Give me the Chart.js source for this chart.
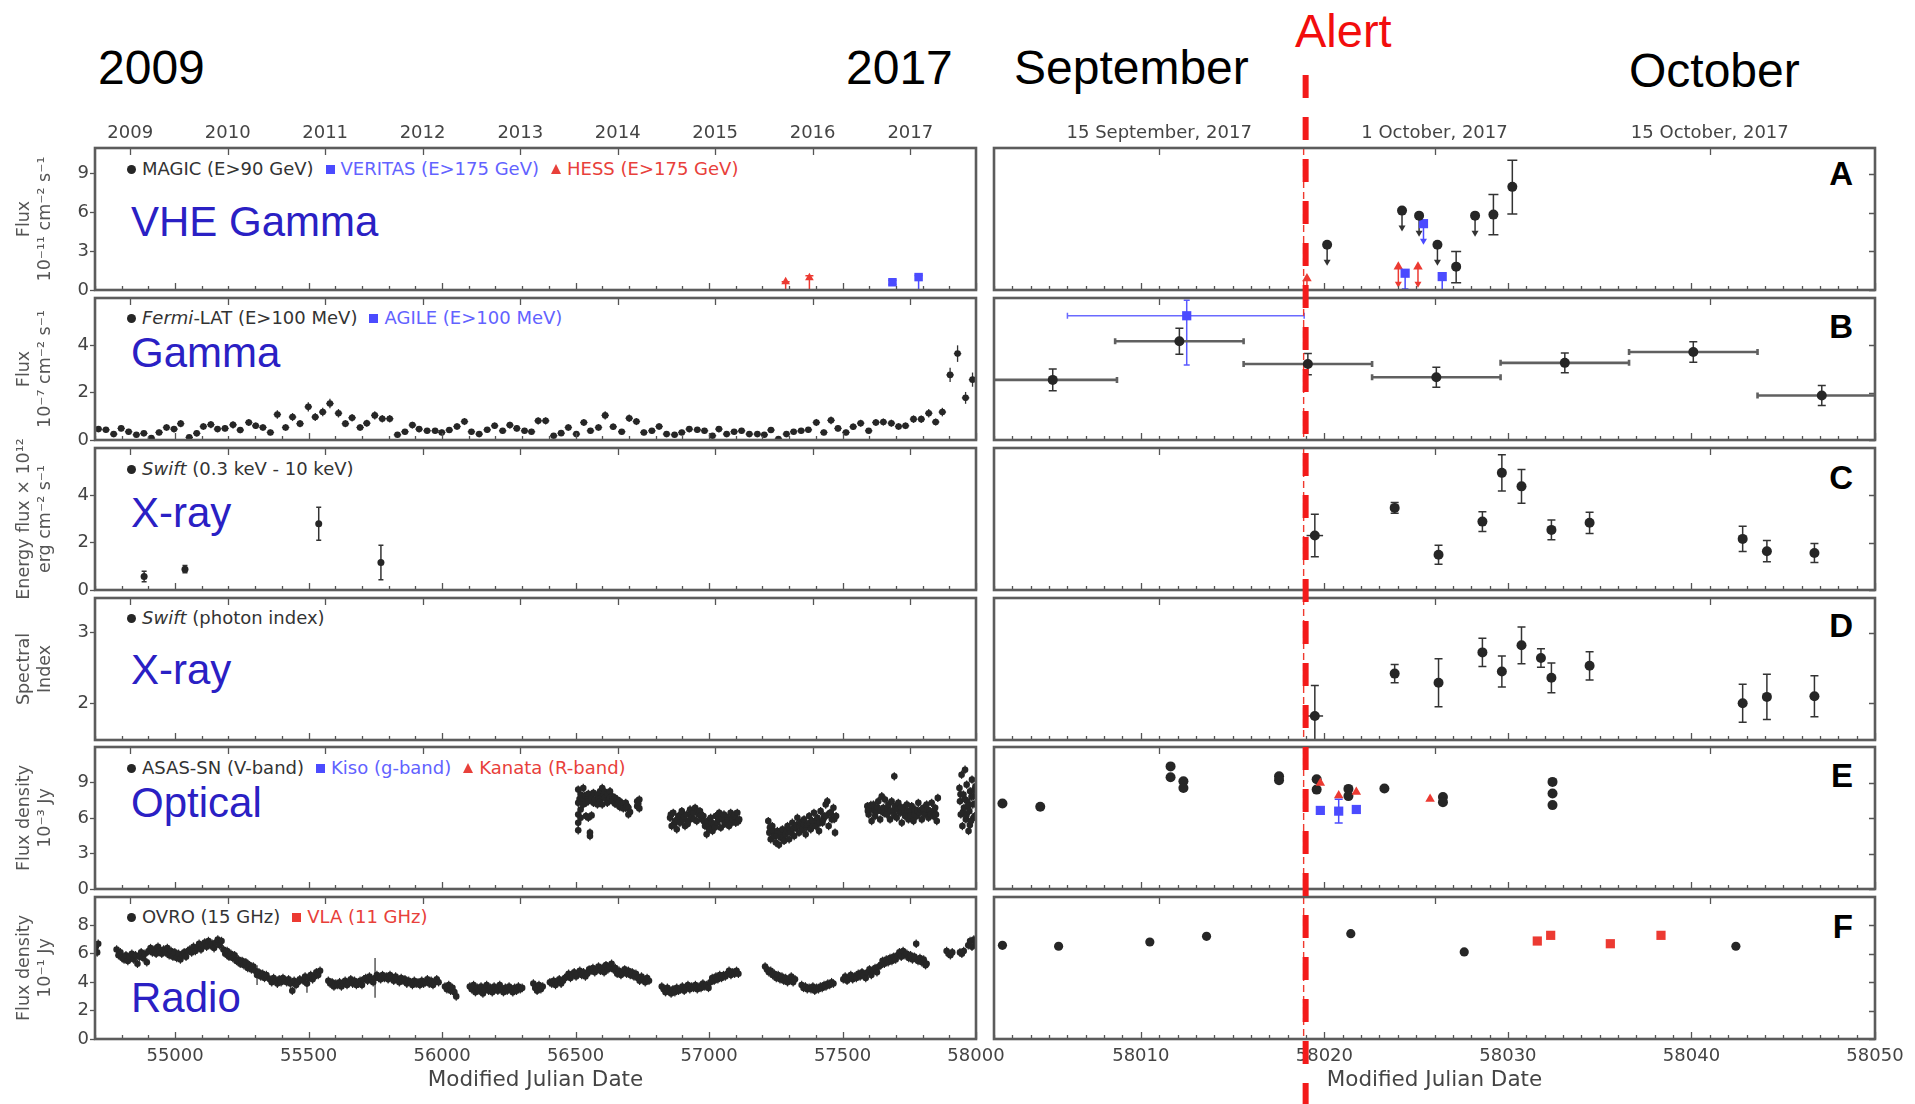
<!DOCTYPE html>
<html lang="en">
<head>
<meta charset="utf-8">
<title>TXS 0506+056 multi-wavelength light curves</title>
<script src="https://cdn.jsdelivr.net/npm/chart.js@4.4.1/dist/chart.umd.min.js"></script>
<style>
html,body{margin:0;padding:0;background:#fff;}
#stage{position:relative;width:1915px;height:1104px;overflow:hidden;font-family:"DejaVu Sans",sans-serif;background:#fff;}
canvas.panel{position:absolute;}
.big{position:absolute;font-family:"Liberation Sans",Arial,sans-serif;font-size:48px;line-height:48px;color:#000;white-space:nowrap;}
.band{position:absolute;left:131px;font-family:"Liberation Sans",Arial,sans-serif;font-size:42px;line-height:42px;color:#2a20c4;white-space:nowrap;}
.letter{position:absolute;right:62px;font-family:"Liberation Sans",Arial,sans-serif;font-weight:bold;font-size:33px;line-height:33px;color:#000;}
.legend{position:absolute;left:127px;height:20px;line-height:20px;font-size:18px;color:#333;white-space:nowrap;display:flex;align-items:center;}
.mk{display:inline-block;margin-right:6px;}
.mk.c{width:9px;height:9px;border-radius:50%;}
.mk.s{width:9px;height:9px;}
.mk.t{width:0;height:0;border-left:5px solid transparent;border-right:5px solid transparent;border-bottom:10px solid #e8403a;}
.gap{display:inline-block;width:12px;}
#alertLine{position:absolute;left:0;top:0;pointer-events:none;}
</style>
</head>
<body>
<div id="stage">
  <div class="big" style="left:98px;top:44px">2009</div>
  <div class="big" style="left:846px;top:44px">2017</div>
  <div class="big" style="left:1014px;top:44px">September</div>
  <div class="big" style="left:1629px;top:47px">October</div>
  <div class="big" style="left:1295px;top:7px;font-size:47px;line-height:47px;color:#f20d0d">Alert</div>

  <div class="band" style="top:201px">VHE Gamma</div>
  <div class="band" style="top:332px">Gamma</div>
  <div class="band" style="top:492px">X-ray</div>
  <div class="band" style="top:649px">X-ray</div>
  <div class="band" style="top:782px">Optical</div>
  <div class="band" style="top:977px">Radio</div>

  <div class="letter" style="top:157px">A</div>
  <div class="letter" style="top:310px">B</div>
  <div class="letter" style="top:461px">C</div>
  <div class="letter" style="top:609px">D</div>
  <div class="letter" style="top:759px">E</div>
  <div class="letter" style="top:910px">F</div>

  <div class="legend" style="top:159px">
    <span class="mk c" style="background:#262626"></span><span>MAGIC (E&gt;90 GeV)</span><span class="gap"></span>
    <span class="mk s" style="background:#4b4bff"></span><span style="color:#6262ff">VERITAS (E&gt;175 GeV)</span><span class="gap"></span>
    <span class="mk t"></span><span style="color:#e8403a">HESS (E&gt;175 GeV)</span>
  </div>
  <div class="legend" style="top:308px">
    <span class="mk c" style="background:#262626"></span><span><i>Fermi</i>-LAT (E&gt;100 MeV)</span><span class="gap"></span>
    <span class="mk s" style="background:#4b4bff"></span><span style="color:#6262ff">AGILE (E&gt;100 MeV)</span>
  </div>
  <div class="legend" style="top:459px">
    <span class="mk c" style="background:#262626"></span><span><i>Swift</i> (0.3 keV - 10 keV)</span>
  </div>
  <div class="legend" style="top:608px">
    <span class="mk c" style="background:#262626"></span><span><i>Swift</i> (photon index)</span>
  </div>
  <div class="legend" style="top:758px">
    <span class="mk c" style="background:#262626"></span><span>ASAS-SN (V-band)</span><span class="gap"></span>
    <span class="mk s" style="background:#4b4bff"></span><span style="color:#6262ff">Kiso (g-band)</span><span class="gap"></span>
    <span class="mk t"></span><span style="color:#e8403a">Kanata (R-band)</span>
  </div>
  <div class="legend" style="top:907px">
    <span class="mk c" style="background:#262626"></span><span>OVRO (15 GHz)</span><span class="gap"></span>
    <span class="mk s" style="background:#ec3a32"></span><span style="color:#e8403a">VLA (11 GHz)</span>
  </div>

  <canvas id="alertLine" width="1915" height="1104"></canvas>
</div>

<script>
// ---------------- axes ----------------
const LEFT_RANGE = [54700, 58000];
const RIGHT_RANGE = [58002, 58050];
const LEFT_MJD_TICKS = [55000, 55500, 56000, 56500, 57000, 57500, 58000];
const RIGHT_MJD_TICKS = [58010, 58020, 58030, 58040, 58050];
const YEAR_TICK_MJD = [54832, 55197, 55562, 55927, 56293, 56658, 57023, 57388, 57754];
const YEAR_LABELS = ['2009', '2010', '2011', '2012', '2013', '2014', '2015', '2016', '2017'];
const DATE_TICK_MJD = [58011, 58026, 58041];
const DATE_LABELS = ['15 September, 2017', '1 October, 2017', '15 October, 2017'];
const ALERT_MJD = 58018.87;

const Y_TICKS_A = [0, 3, 6, 9];
const Y_TICKS_B = [0, 2, 4];
const Y_TICKS_C = [0, 2, 4];
const Y_TICKS_D = [2, 3];
const Y_TICKS_E = [0, 3, 6, 9];
const Y_TICKS_F = [0, 2, 4, 6, 8];

// ---------------- A: VHE gamma (1e-11 cm^-2 s^-1) ----------------
// [MJD, flux, lower, upper]
const HESS_LONG = [[57287, 0.64, 0, 0.64], [57376, 0.95, 0, 1.1]];
const VERITAS_LONG = [[57687, 0.6, 0.42, 0.75], [57785, 1.0, 0, 1.12]];
const MAGIC_FLARE = [[58027.18, 1.81, 0.57, 2.98], [58029.21, 5.84, 4.28, 7.4], [58030.24, 7.99, 5.89, 10.06]];
// upper limits [MJD, flux]
const MAGIC_UL = [[58020.15, 3.5], [58024.23, 6.15], [58025.16, 5.76], [58026.16, 3.5], [58028.21, 5.76]];
const VERITAS_UL = [[58024.4, 1.3], [58025.4, 5.14], [58026.42, 1.04]];
const HESS_UL = [[58019.05, 0.9], [58024.03, 1.8], [58025.1, 1.8]];

// ---------------- B: HE gamma (1e-7 cm^-2 s^-1) ----------------
// monthly Fermi-LAT bins [MJD, flux, error]
const FERMI_MONTHLY = [
  [54713,0.46,0.12],[54741,0.43,0.12],[54770,0.25,0.12],[54798,0.49,0.12],[54826,0.35,0.12],[54855,0.22,0.1],
  [54883,0.28,0.1],[54911,0.08,0.1],[54940,0.32,0.12],[54968,0.53,0.14],[54996,0.46,0.13],[55021,0.69,0.15],
  [55053,0.11,0.1],[55081,0.28,0.12],[55106,0.57,0.14],[55134,0.65,0.15],[55159,0.46,0.13],[55187,0.49,0.13],
  [55217,0.64,0.15],[55244,0.42,0.13],[55276,0.74,0.15],[55302,0.6,0.14],[55329,0.53,0.14],[55357,0.32,0.12],
  [55383,1.08,0.18],[55414,0.53,0.14],[55440,0.97,0.17],[55468,0.69,0.15],[55499,1.4,0.2],[55525,0.97,0.17],
  [55553,1.18,0.18],[55580,1.54,0.2],[55612,1.13,0.18],[55638,0.69,0.15],[55663,0.94,0.16],[55693,0.53,0.14],
  [55718,0.71,0.15],[55748,1.04,0.17],[55776,0.9,0.16],[55804,0.9,0.16],[55833,0.22,0.1],[55861,0.35,0.12],
  [55889,0.63,0.14],[55914,0.46,0.13],[55944,0.39,0.12],[55974,0.39,0.12],[55999,0.32,0.12],[56027,0.42,0.12],
  [56056,0.57,0.14],[56084,0.78,0.15],[56110,0.35,0.12],[56139,0.25,0.11],[56169,0.43,0.12],[56197,0.6,0.14],
  [56227,0.39,0.12],[56254,0.63,0.14],[56280,0.49,0.13],[56309,0.39,0.12],[56335,0.35,0.12],[56360,0.81,0.15],
  [56388,0.81,0.15],[56418,0.18,0.1],[56446,0.29,0.11],[56473,0.53,0.14],[56503,0.25,0.11],[56531,0.74,0.15],
  [56556,0.39,0.12],[56586,0.53,0.14],[56611,1.04,0.17],[56641,0.56,0.14],[56673,0.35,0.12],[56701,0.92,0.16],
  [56728,0.78,0.15],[56756,0.32,0.12],[56786,0.39,0.12],[56813,0.57,0.14],[56841,0.25,0.11],[56871,0.22,0.1],
  [56898,0.32,0.11],[56926,0.46,0.13],[56956,0.43,0.12],[56983,0.39,0.12],[57013,0.18,0.1],[57037,0.46,0.13],
  [57066,0.25,0.11],[57094,0.35,0.12],[57122,0.39,0.12],[57151,0.25,0.11],[57181,0.25,0.11],[57207,0.22,0.1],
  [57232,0.42,0.12],[57260,0.04,0.1],[57290,0.25,0.11],[57317,0.35,0.12],[57345,0.39,0.12],[57372,0.43,0.12],
  [57402,0.74,0.15],[57430,0.32,0.12],[57457,0.83,0.16],[57483,0.49,0.13],[57513,0.32,0.12],[57540,0.56,0.14],
  [57568,0.71,0.15],[57598,0.39,0.12],[57625,0.74,0.15],[57653,0.76,0.15],[57683,0.71,0.15],[57710,0.57,0.14],
  [57736,0.6,0.14],[57766,0.88,0.16],[57795,0.88,0.16],[57823,1.13,0.18],[57849,0.76,0.15],[57874,1.18,0.18],
  [57903,2.75,0.3],[57931,3.65,0.35],[57961,1.78,0.25],[57987,2.55,0.3]
];
const FERMI_MONTH_HALF = 14;
// weekly Fermi-LAT bins [MJD, flux, error]
const FERMI_WEEKLY = [[58005.2,2.54,0.46],[58012.1,4.17,0.55],[58019.1,3.21,0.45],[58026.1,2.65,0.42],
  [58033.1,3.26,0.42],[58040.1,3.72,0.43],[58047.1,1.88,0.42]];
const FERMI_WEEK_HALF = 3.5;
// AGILE [MJD, flux, lower, upper, start, end]
const AGILE = [[58012.5, 5.25, 3.17, 5.9, 58006.0, 58018.9]];

// ---------------- C: X-ray energy flux (1e-12 erg cm^-2 s^-1) ----------------
// [MJD, flux, error, time error]
const SWIFT_FLUX_LONG = [[54884,0.57,0.22,0],[55037,0.88,0.15,0],[55538,2.8,0.7,0],[55771,1.16,0.73,0]];
const SWIFT_FLUX_RECENT = [[58019.48,2.3,0.9,0.45],[58023.83,3.47,0.23,0],[58026.22,1.49,0.4,0],[58028.61,2.89,0.42,0],
  [58029.67,4.95,0.77,0],[58030.74,4.38,0.71,0],[58032.37,2.54,0.42,0],[58034.45,2.84,0.45,0],
  [58042.79,2.16,0.53,0],[58044.11,1.64,0.45,0],[58046.7,1.56,0.4,0]];

// ---------------- D: X-ray photon index ----------------
const SWIFT_INDEX = [[58019.48,1.82,0.43,0.45],[58023.83,2.42,0.13,0],[58026.22,2.29,0.34,0],[58028.61,2.72,0.2,0],
  [58029.67,2.45,0.22,0],[58030.74,2.82,0.26,0],[58031.8,2.64,0.13,0],[58032.37,2.36,0.21,0],
  [58034.45,2.53,0.2,0],[58042.79,2.0,0.27,0],[58044.11,2.09,0.32,0],[58046.7,2.1,0.29,0]];

// ---------------- E: optical flux density (1e-3 Jy) ----------------
const ASASSN_LONG = [
  // 2013 season
  [56510,8.4],[56510,7.28],[56510,6.3],[56510,5.6],[56510,4.96],[56515,7.6],[56519,7.98],[56519,7.42],[56519,6.72],[56519,6.02],
  [56529,8.54],[56529,7.7],[56529,7.14],[56534,7.9],[56539,7.84],[56539,7.28],[56539,6.16],[56544,7.6],[56548,8.04],[56548,7.42],
  [56548,6.02],[56554,4.48],[56554,4.76],[56560,7.7],[56560,6.22],[56567,8.12],[56567,7.28],[56573,7.56],[56582,7.98],[56582,7.14],
  [56587,7.6],[56592,7.42],[56592,8.26],[56600,8.54],[56600,7.84],[56600,7.14],[56605,8.0],[56610,7.7],[56610,8.21],[56619,7.98],
  [56619,7.28],[56624,7.5],[56629,8.26],[56629,7.7],[56638,7.84],[56638,7.42],[56643,7.6],[56648,7.7],[56648,7.2],[56656,7.56],
  [56656,7.14],[56661,7.3],[56666,7.42],[56666,6.92],[56672,7.2],[56679,7.14],[56679,6.81],[56688,7.28],[56688,6.86],[56693,7.0],
  [56698,6.86],[56698,6.3],[56704,6.5],[56731,7.42],[56731,7.0],[56735,7.2],[56739,7.56],[56739,6.81],
  // 2014 season
  [56854,6.02],[56857,6.3],[56860,5.32],[56866,6.44],[56869,5.5],[56873,5.74],[56879,5.04],[56882,5.9],[56885,6.16],[56891,5.6],
  [56894,6.2],[56898,6.58],[56904,5.88],[56907,6.1],[56910,5.32],[56916,6.3],[56920,5.5],[56923,5.74],[56929,6.72],[56932,6.3],
  [56935,6.02],[56941,6.44],[56944,5.9],[56948,6.86],[56954,5.74],[56957,6.6],[56960,6.3],[56966,6.58],[56970,6.2],[56973,5.88],
  [56979,6.16],[56982,5.7],[56985,5.32],[56991,4.62],[56995,5.74],[56998,5.3],[57001,5.04],[57006,6.02],[57010,5.6],[57013,4.9],
  [57019,5.46],[57022,5.2],[57025,6.16],[57031,5.6],[57035,5.9],[57038,6.44],[57044,5.18],[57047,6.1],[57050,5.88],[57056,6.3],
  [57059,5.5],[57063,5.6],[57069,6.02],[57072,5.8],[57075,5.32],[57081,6.44],[57085,5.6],[57088,5.88],[57094,6.16],[57097,6.3],
  [57100,5.6],[57106,6.44],[57109,5.7],[57113,5.88],
  // 2015 season
  [57222,5.74],[57226,4.76],[57228,5.2],[57231,4.2],[57237,5.32],[57240,4.9],[57244,4.48],[57250,3.92],[57253,4.5],[57256,4.9],
  [57262,3.73],[57266,4.8],[57269,4.34],[57275,5.04],[57278,4.4],[57281,4.06],[57287,4.62],[57291,4.9],[57294,5.32],[57300,4.2],
  [57303,5.0],[57306,4.76],[57312,5.6],[57316,5.1],[57319,4.48],[57325,5.18],[57328,5.4],[57331,6.02],[57337,4.76],[57340,5.3],
  [57343,5.6],[57350,5.04],[57353,5.5],[57356,5.88],[57362,4.62],[57365,5.2],[57368,5.46],[57375,6.16],[57378,5.6],[57381,5.04],
  [57387,5.74],[57390,5.3],[57393,6.44],[57400,5.32],[57403,5.8],[57406,6.02],[57412,4.9],[57415,5.6],[57418,6.58],[57425,5.6],
  [57428,5.9],[57431,6.16],[57437,7.14],[57440,6.2],[57443,7.42],[57448,5.32],[57453,6.44],[57456,6.4],[57460,5.88],[57466,6.86],
  [57469,5.9],[57472,4.76],[57476,6.16],
  // 2016 season
  [57593,7.0],[57595,6.6],[57598,6.3],[57603,6.72],[57606,7.1],[57609,5.74],[57616,7.14],[57619,6.6],[57622,6.16],[57628,6.58],
  [57631,6.9],[57634,7.42],[57641,5.88],[57644,6.6],[57647,7.84],[57653,6.86],[57656,6.4],[57659,7.56],[57666,6.3],[57669,6.8],
  [57672,7.14],[57678,5.88],[57681,6.6],[57684,7.42],[57691,6.58],[57694,9.52],[57694,6.2],[57697,7.0],[57703,6.02],[57706,6.7],
  [57709,7.28],[57716,6.44],[57719,6.9],[57722,5.6],[57728,6.86],[57731,6.4],[57734,6.16],[57741,7.14],[57744,6.6],[57747,5.88],
  [57753,6.58],[57756,6.2],[57759,7.0],[57766,5.74],[57769,6.3],[57772,6.72],[57778,6.16],[57781,6.6],[57784,7.28],[57790,6.44],
  [57794,6.7],[57797,5.88],[57803,6.86],[57806,6.6],[57809,6.3],[57815,7.14],[57819,6.7],[57822,6.02],[57828,6.58],[57831,6.3],
  [57834,7.28],[57840,6.16],[57844,6.5],[57847,6.86],[57850,6.3],[57853,5.74],[57857,7.7],
  // 2017 season
  [57938,8.54],[57940,7.42],[57942,8.0],[57943,6.3],[57946,9.66],[57949,5.32],[57951,6.5],[57953,7.98],[57955,6.86],[57957,7.6],
  [57959,10.08],[57962,5.88],[57964,6.2],[57965,8.82],[57968,7.42],[57970,7.0],[57972,4.9],[57975,6.58],[57977,5.4],[57978,8.26],
  [57981,5.74],[57983,7.8],[57985,9.24],[57988,7.14],[57990,6.0],[57991,7.84],[57994,8.4],[57995,6.16],[57997,7.2],[57998,8.68]
];
const ASASSN_TYPICAL_ERR = 0.35;
const ASASSN_RECENT = [[58002.46,7.23],[58004.52,6.95],[58011.62,10.36],[58011.62,9.44],[58012.32,9.1],[58012.32,8.54],
  [58017.53,9.52],[58017.53,9.2],[58019.58,9.27],[58019.58,8.4],[58021.31,8.46],[58021.31,7.85],[58023.27,8.49],
  [58026.46,7.77],[58026.46,7.34],[58032.43,9.05],[58032.43,8.07],[58032.43,7.09]];
const KISO = [[58019.78,6.64,0.3],[58020.78,6.58,1.0],[58021.74,6.72,0.3]];
const KANATA = [[58019.78,8.96],[58020.78,7.9],[58021.74,8.2],[58025.76,7.61]];

// ---------------- F: radio flux density (1e-1 Jy) ----------------
// [MJD, flux] or [MJD, flux, error]
const OVRO_LONG = [
  [54703,6.5],[54708,6.1],[54712,6.7],
  [54781,6.3],[54788,5.9],[54795,6.1],[54802,5.7],[54809,5.6],[54816,5.9],[54823,5.5],[54830,5.8],
  [54838,6.0],[54845,5.6],[54852,5.9],[54859,5.3],[54866,5.8],[54873,6.1],[54880,5.7],[54887,6.0],[54894,5.4],[54901,6.2],
  [54908,6.4],[54915,6.1],[54922,6.3],[54929,6.0],[54936,6.5],[54943,6.2],[54950,6.0],[54957,6.3],[54964,6.1],[54971,6.4],[54978,5.9],[54985,6.2],
  [54992,5.8],[54999,6.1],[55006,5.7],[55013,6.0],[55020,5.6],[55027,5.9],[55034,6.1],[55041,5.8],[55048,6.2],
  [55055,6.3],[55062,6.1],[55069,6.5],[55076,6.2],[55083,6.4],[55090,6.7],[55097,6.3],[55104,6.6],
  [55111,6.8],[55118,6.5],[55125,6.9],[55132,6.6],[55139,6.7],[55146,6.4],[55153,6.8],[55160,7.0],[55167,6.6],[55174,6.9],
  [55181,6.3],[55188,6.0],[55195,6.2],[55202,5.8],[55209,6.0],[55216,5.7],[55223,5.9],[55230,5.5],
  [55237,5.6],[55244,5.3],[55251,5.5],[55258,5.2],[55265,5.4],[55272,5.0],[55279,5.2],[55286,4.9],[55293,5.1],
  [55300,4.8],[55307,4.5,0.7],[55314,4.7],[55321,4.4],[55328,4.6],[55335,4.3],[55342,4.5],
  [55355,4.2],[55362,4.0],[55369,4.3],[55376,4.1],[55383,3.9],[55390,4.2],[55397,4.0],[55404,4.3],
  [55418,4.0],[55425,4.2],[55432,3.9],[55439,3.4],[55446,4.1],[55453,3.8],[55460,4.0],[55467,4.2],
  [55480,4.1],[55487,4.4],[55494,3.9,0.65],[55501,4.3],[55508,4.5],[55515,4.2],[55522,4.4],[55529,4.7],[55536,4.5],[55543,4.8],
  [55574,4.1],[55581,3.9],[55588,4.0],[55595,3.7],[55602,3.9],[55609,3.8],[55616,4.0],[55623,3.7],[55630,3.9],[55637,4.1],
  [55644,3.8],[55651,4.0],[55658,4.2],[55665,3.9],[55672,4.1],[55679,3.8],
  [55686,3.9],[55693,4.1],[55700,3.8],[55707,4.2],[55714,4.3],[55721,4.1],[55728,4.4],[55735,4.2],[55742,4.0],[55749,4.3,1.4],
  [55756,4.5],[55763,4.3],[55770,4.2],[55777,4.5],[55784,4.3],[55791,4.4],[55798,4.2],[55805,4.5],
  [55812,4.3],[55819,4.1],[55826,4.4],[55833,4.2],[55840,4.0],[55847,4.3],[55854,4.1],[55861,4.2],[55868,3.9],[55875,4.1],
  [55882,4.0],[55889,3.8],[55896,4.1],[55903,3.9],[55910,4.0],[55917,3.8],[55924,4.1],[55931,3.9],[55938,4.0],[55945,4.2],
  [55952,3.9],[55959,4.1],[55966,3.8],[55973,4.0],[55980,4.2],[55987,4.0],
  [56011,3.7],[56018,3.5],[56025,3.8],[56032,3.4],[56039,3.6],[56046,3.3],[56053,3.0],
  [56104,3.7],[56111,3.5],[56118,3.8],[56125,3.3],[56132,3.6],[56139,3.4],[56146,3.7],[56153,3.2],[56160,3.5],[56167,3.8],
  [56174,3.4],[56181,3.6],[56188,3.3],[56195,3.7],[56202,3.5],[56209,3.4],[56216,3.8],[56223,3.5],[56230,3.3],[56237,3.6],
  [56244,3.4],[56251,3.7],[56258,3.5],[56265,3.3],[56272,3.6],[56279,3.4],[56286,3.7],[56293,3.5],[56300,3.6],
  [56342,3.9],[56349,3.6],[56356,3.4],[56363,3.8],[56370,3.5],[56377,3.7],
  [56404,4.0],[56411,3.9],[56418,4.1],[56425,3.8],[56432,4.0],[56439,4.2],[56446,3.9],[56453,4.1],[56460,4.3],
  [56467,4.4],[56474,4.6],[56481,4.3],[56488,4.5],[56495,4.7],[56502,4.4],[56509,4.6],[56516,4.8],[56523,4.5],[56530,4.7],
  [56537,4.4],[56544,4.6],[56551,4.9],
  [56558,4.8],[56565,5.0],[56572,4.7],[56579,4.9],[56586,5.1],[56593,4.8],[56600,5.0],[56607,4.7],[56614,5.2],[56621,4.9],
  [56628,5.1],[56635,5.3],[56642,4.9],[56649,5.0],
  [56656,4.6],[56663,4.8],[56670,4.5],[56677,4.7],[56684,4.9],[56691,4.6],[56698,4.8],[56705,4.5],[56712,4.7],[56719,4.4],[56726,4.6],
  [56733,4.3],[56740,4.1],[56747,4.4],[56754,4.2],[56761,4.0],[56768,4.3],[56775,4.1],
  [56823,3.7],[56830,3.5],[56837,3.3],[56844,3.6],[56851,3.4],[56858,3.2],[56865,3.5],[56872,3.3],[56879,3.6],[56886,3.4],
  [56893,3.5],[56900,3.7],[56907,3.4],[56914,3.6],[56921,3.8],[56928,3.5],[56935,3.7],[56942,3.6],[56949,3.8],[56956,3.5],
  [56963,3.7],[56970,3.6],[56977,3.9],[56984,3.7],[56991,3.8],[56998,3.6],
  [57005,4.0],[57012,4.3],[57019,4.1],[57026,4.4],[57033,4.2],[57040,4.5],[57047,4.3],[57054,4.5],[57061,4.4],
  [57068,4.6],[57075,4.8],[57082,4.5],[57089,4.7],[57096,4.6],[57103,4.8],[57110,4.6],
  [57210,5.1],[57217,4.9],[57224,4.7],[57231,4.8],[57238,4.5],
  [57245,4.6],[57252,4.3],[57259,4.5],[57266,4.2],[57273,4.4],[57280,4.1],[57287,4.3],[57294,4.0],[57301,4.2],[57308,4.4],
  [57315,4.0],[57322,4.2],
  [57347,3.8],[57354,3.6],[57361,3.7],[57368,3.5],[57375,3.6],[57382,3.5],[57389,3.7],[57396,3.4],[57403,3.6],[57410,3.5],
  [57417,3.7],[57424,3.6],[57431,3.8],[57438,3.7],[57445,3.9],[57452,3.8],[57459,4.0],[57466,3.9],
  [57503,4.2],[57510,4.4],[57517,4.1],[57524,4.3],[57531,4.5],[57538,4.2],[57545,4.4],[57552,4.3],[57559,4.6],[57566,4.4],[57573,4.7],
  [57580,4.5],[57587,4.3],[57594,4.7],[57601,4.9],[57608,4.5],[57615,4.8],[57622,5.0],[57629,4.7],[57636,5.1],
  [57643,5.2],[57650,5.5],[57657,5.3],[57664,5.6],[57671,5.4],[57678,5.7],[57685,5.5],[57692,5.8],[57699,5.6],
  [57706,5.9],[57713,6.1],[57720,5.8],[57727,6.2],[57734,5.9],[57741,6.0],[57748,5.7],[57755,5.9],
  [57762,5.6],[57769,5.8],[57776,6.7],[57783,5.5],[57790,5.7],[57797,5.4],[57804,5.6],[57811,5.2],[57815,5.3],
  [57890,6.2],[57897,6.0],[57904,5.9],[57911,6.1],
  [57940,6.1],[57947,6.0],[57954,6.2],
  [57971,6.6],[57978,6.9],[57985,6.5],[57992,7.0],[57998,6.8]
];
const OVRO_TYPICAL_ERR = 0.3;
const OVRO_RECENT = [[58002.46,6.6],[58005.52,6.53],[58010.49,6.83],[58013.58,7.23],[58021.44,7.42],[58027.62,6.13],[58042.42,6.53]];
const VLA_RECENT = [[58031.6,6.9],[58032.33,7.3],[58035.58,6.71],[58038.34,7.3]];

// ---------------- colours ----------------
const BLACK = '#262626';
const BLUE = '#4b4bff';
const RED = '#ec3a32';

// ---------------- point builders ----------------
const bounded = rows => rows.map(([x, y, lo, hi]) => ({x, y, yLo: lo, yHi: hi}));
const sym = rows => rows.map(([x, y, e, xe]) => {
  const p = {x, y, yLo: y - e, yHi: y + e};
  if (xe) { p.xLo = x - xe; p.xHi = x + xe; }
  return p;
});
const plain = (rows, typicalErr) => rows.map(r => {
  const e = r.length > 2 ? r[2] : typicalErr;
  return e ? {x: r[0], y: r[1], yLo: r[1] - e, yHi: r[1] + e} : {x: r[0], y: r[1]};
});
const limits = rows => rows.map(([x, y]) => ({x, y, ul: true}));
const binned = (rows, half) => rows.map(([x, y, e]) => ({x, y, yLo: y - e, yHi: y + e, xLo: x - half, xHi: x + half}));

function series(points, shape, radius, color, extra) {
  return Object.assign({
    data: points, showLine: false,
    pointStyle: shape, pointRadius: radius,
    pointBackgroundColor: color, pointBorderColor: color, pointBorderWidth: 0,
    backgroundColor: color, borderColor: color, borderWidth: 0,
    errColor: color, errWidth: 1.5, capSize: 4
  }, extra || {});
}

// ---------------- plugins ----------------
const errorBars = {
  id: 'errorBars',
  beforeDatasetsDraw(chart) {
    const {ctx, chartArea: a, scales: {x, y}} = chart;
    ctx.save();
    ctx.beginPath();
    ctx.rect(a.left, a.top, a.right - a.left, a.bottom - a.top);
    ctx.clip();
    chart.data.datasets.forEach(ds => {
      ds.data.forEach(p => {
        const px = x.getPixelForValue(p.x), py = y.getPixelForValue(p.y);
        if (p.xLo != null) {
          ctx.strokeStyle = ds.xErrColor || ds.errColor;
          ctx.lineWidth = ds.xErrWidth || ds.errWidth;
          const x1 = x.getPixelForValue(p.xLo), x2 = x.getPixelForValue(p.xHi);
          ctx.beginPath();
          ctx.moveTo(x1, py); ctx.lineTo(x2, py);
          if (ds.xCap) {
            ctx.moveTo(x1, py - ds.xCap); ctx.lineTo(x1, py + ds.xCap);
            ctx.moveTo(x2, py - ds.xCap); ctx.lineTo(x2, py + ds.xCap);
          }
          ctx.stroke();
        }
        ctx.strokeStyle = ds.errColor;
        ctx.fillStyle = ds.errColor;
        ctx.lineWidth = ds.errWidth;
        if (p.yLo != null) {
          const y1 = y.getPixelForValue(p.yLo), y2 = y.getPixelForValue(p.yHi);
          const c = ds.capSize;
          ctx.beginPath();
          ctx.moveTo(px, y1); ctx.lineTo(px, y2);
          if (c) {
            ctx.moveTo(px - c, y1); ctx.lineTo(px + c, y1);
            ctx.moveTo(px - c, y2); ctx.lineTo(px + c, y2);
          }
          ctx.stroke();
        }
        if (p.ul) {
          const len = 21;
          ctx.beginPath();
          ctx.moveTo(px, py); ctx.lineTo(px, py + len - 5);
          ctx.stroke();
          ctx.beginPath();
          ctx.moveTo(px - 3.5, py + len - 6); ctx.lineTo(px + 3.5, py + len - 6); ctx.lineTo(px, py + len);
          ctx.closePath(); ctx.fill();
        }
      });
    });
    ctx.restore();
  }
};

const panelFrame = {
  id: 'panelFrame',
  beforeDatasetsDraw(chart, args, o) {
    if (o.alert == null) return;
    const {ctx, chartArea: a, scales: {x}} = chart;
    const px = x.getPixelForValue(o.alert);
    ctx.save();
    ctx.strokeStyle = '#f0392e';
    ctx.lineWidth = 1.4;
    ctx.setLineDash([7, 4]);
    ctx.beginPath(); ctx.moveTo(px, a.top); ctx.lineTo(px, a.bottom); ctx.stroke();
    ctx.restore();
  },
  afterDraw(chart, args, o) {
    const {ctx, chartArea: a, scales} = chart;
    const x = scales.x, top = scales.xTop, y = scales.y;
    ctx.save();
    ctx.strokeStyle = '#555';
    ctx.lineWidth = 1.3;
    ctx.beginPath();
    const k0 = Math.ceil(x.min / o.minorStep - 1e-9);
    for (let k = k0; k * o.minorStep <= x.max + 1e-9; k++) {
      const px = Math.round(x.getPixelForValue(k * o.minorStep)) + 0.5;
      const len = (k % o.majorEvery === 0) ? 7 : 4;
      ctx.moveTo(px, a.bottom); ctx.lineTo(px, a.bottom - len);
    }
    top.ticks.forEach(t => {
      const px = Math.round(top.getPixelForValue(t.value)) + 0.5;
      ctx.moveTo(px, a.top); ctx.lineTo(px, a.top + 7);
    });
    if (o.rightTicks) {
      y.ticks.forEach(t => {
        const py = Math.round(y.getPixelForValue(t.value)) + 0.5;
        ctx.moveTo(a.right, py); ctx.lineTo(a.right - 6, py);
      });
    }
    ctx.stroke();
    ctx.lineWidth = 2.6;
    ctx.strokeStyle = '#5c5c5c';
    ctx.strokeRect(a.left, a.top, a.right - a.left, a.bottom - a.top);
    ctx.restore();
  }
};

// ---------------- panel layout ----------------
const ROW_TOPS = [148, 298, 448, 598, 747, 897];
const FRAME_H = 142, FRAME_W = 881;
const TICK_FONT = {family: 'DejaVu Sans', size: 18};

function makePanel(col, row, spec) {
  const left = col === 0;
  const frameX = left ? 95 : 994;
  const ML = left ? 95 : 14, MR = left ? 30 : 36, MT = 36, MB = row === 5 ? 62 : 18;
  const w = ML + FRAME_W + MR, h = MT + FRAME_H + MB;
  const cv = document.createElement('canvas');
  cv.className = 'panel';
  cv.width = w; cv.height = h;
  cv.style.left = (frameX - ML) + 'px';
  cv.style.top = (ROW_TOPS[row] - MT) + 'px';
  cv.style.width = w + 'px'; cv.style.height = h + 'px';
  document.getElementById('stage').insertBefore(cv, document.getElementById('alertLine'));

  const range = left ? LEFT_RANGE : RIGHT_RANGE;
  const xTicks = left ? LEFT_MJD_TICKS : RIGHT_MJD_TICKS;
  const topTicks = left ? YEAR_TICK_MJD : DATE_TICK_MJD;
  const topLabels = left ? YEAR_LABELS : DATE_LABELS;

  return new Chart(cv, {
    type: 'scatter',
    data: {datasets: spec.datasets},
    options: {
      responsive: false, animation: false, events: [],
      layout: {padding: {left: 0, top: 0, right: MR, bottom: 0}},
      plugins: {
        legend: {display: false}, tooltip: {enabled: false},
        panelFrame: {minorStep: left ? 100 : 1, majorEvery: left ? 5 : 10, rightTicks: !left, alert: left ? null : ALERT_MJD}
      },
      scales: {
        x: {
          type: 'linear', position: 'bottom', min: range[0], max: range[1],
          afterBuildTicks: s => { s.ticks = xTicks.map(v => ({value: v})); },
          afterFit: s => { s.height = MB; s.paddingLeft = 0; s.paddingRight = 0; },
          grid: {display: false, drawTicks: false}, border: {display: false},
          ticks: {display: row === 5, autoSkip: false, maxRotation: 0, padding: 6.7, color: '#444', font: TICK_FONT,
                  callback: v => String(v)},
          title: {display: row === 5, text: 'Modified Julian Date', color: '#444',
                  font: {family: 'DejaVu Sans', size: 21.5}, padding: {top: 0, bottom: 8}}
        },
        xTop: {
          type: 'linear', axis: 'x', position: 'top', min: range[0], max: range[1],
          afterBuildTicks: s => { s.ticks = topTicks.map(v => ({value: v})); },
          afterFit: s => { s.height = MT; s.paddingLeft = 0; s.paddingRight = 0; },
          grid: {display: false, drawTicks: false}, border: {display: false},
          ticks: {display: row === 0, autoSkip: false, maxRotation: 0, padding: 4.2, color: '#444', font: TICK_FONT,
                  callback: (v, i) => topLabels[i]}
        },
        y: {
          type: 'linear', position: 'left', min: spec.yMin, max: spec.yMax,
          afterBuildTicks: s => { s.ticks = spec.yTicks.map(v => ({value: v})); },
          afterFit: s => { s.width = ML; s.paddingTop = 0; s.paddingBottom = 0; },
          grid: left ? {display: true, drawOnChartArea: false, drawTicks: true, tickLength: 5, tickColor: '#555', tickWidth: 1.3}
                     : {display: false, drawTicks: false},
          border: {display: false},
          ticks: {display: left, padding: 1, color: '#444', font: TICK_FONT, callback: v => String(v)},
          title: {display: left, text: spec.yTitle || '', color: '#555',
                  font: {family: 'DejaVu Sans', size: 17.5}, padding: {top: 13.5, bottom: 0}}
        }
      }
    },
    plugins: [errorBars, panelFrame]
  });
}

// ---------------- panels ----------------
const Y_A = {yMin: 0, yMax: 11, yTicks: Y_TICKS_A, yTitle: ['Flux', '10\u207B\u00B9\u00B9 cm\u207B\u00B2 s\u207B\u00B9']};
const Y_B = {yMin: 0, yMax: 6, yTicks: Y_TICKS_B, yTitle: ['Flux', '10\u207B\u2077 cm\u207B\u00B2 s\u207B\u00B9']};
const Y_C = {yMin: 0, yMax: 6, yTicks: Y_TICKS_C, yTitle: ['Energy flux \u00D7 10\u00B9\u00B2', 'erg cm\u207B\u00B2 s\u207B\u00B9']};
const Y_D = {yMin: 1.48, yMax: 3.49, yTicks: Y_TICKS_D, yTitle: ['Spectral', 'Index']};
const Y_E = {yMin: 0, yMax: 12, yTicks: Y_TICKS_E, yTitle: ['Flux density', '10\u207B\u00B3 Jy']};
const Y_F = {yMin: 0, yMax: 10, yTicks: Y_TICKS_F, yTitle: ['Flux density', '10\u207B\u00B9 Jy']};

makePanel(0, 0, Object.assign({datasets: [
  series(bounded(HESS_LONG), 'triangle', 5, RED, {capSize: 4}),
  series(bounded(VERITAS_LONG), 'rect', 6, BLUE, {capSize: 4})
]}, Y_A));

const rightA = makePanel(1, 0, Object.assign({datasets: [
  series(bounded(MAGIC_FLARE), 'circle', 5, BLACK, {errColor: '#333', capSize: 5}),
  series(limits(MAGIC_UL), 'circle', 5, BLACK, {errColor: '#333'}),
  series(limits(VERITAS_UL), 'rect', 6.5, BLUE),
  series(limits(HESS_UL), 'triangle', 5.5, RED)
]}, Y_A));

makePanel(0, 1, Object.assign({datasets: [
  series(binned(FERMI_MONTHLY, FERMI_MONTH_HALF), 'circle', 3.3, BLACK, {errColor: '#333', errWidth: 1.3, capSize: 0})
]}, Y_B));

makePanel(1, 1, Object.assign({datasets: [
  series(bounded(AGILE).map((p, i) => Object.assign(p, {xLo: AGILE[i][4], xHi: AGILE[i][5]})), 'rect', 6.5, BLUE,
         {errColor: '#5a5aff', xErrColor: '#6a6aff', errWidth: 1.5, xErrWidth: 1.5, capSize: 3, xCap: 3}),
  series(binned(FERMI_WEEKLY, FERMI_WEEK_HALF), 'circle', 5, BLACK,
         {errColor: '#333', xErrColor: '#606060', errWidth: 1.5, xErrWidth: 2.6, capSize: 4, xCap: 3})
]}, Y_B));

makePanel(0, 2, Object.assign({datasets: [
  series(sym(SWIFT_FLUX_LONG), 'circle', 3.5, BLACK, {errColor: '#333', capSize: 2.5})
]}, Y_C));

makePanel(1, 2, Object.assign({datasets: [
  series(sym(SWIFT_FLUX_RECENT), 'circle', 5, BLACK, {errColor: '#333', capSize: 4})
]}, Y_C));

makePanel(0, 3, Object.assign({datasets: []}, Y_D));

makePanel(1, 3, Object.assign({datasets: [
  series(sym(SWIFT_INDEX), 'circle', 5, BLACK, {errColor: '#333', capSize: 4})
]}, Y_D));

makePanel(0, 4, Object.assign({datasets: [
  series(plain(ASASSN_LONG, ASASSN_TYPICAL_ERR), 'circle', 3.3, BLACK, {errColor: '#2e2e2e', errWidth: 1.3, capSize: 0})
]}, Y_E));

makePanel(1, 4, Object.assign({datasets: [
  series(plain(KANATA), 'triangle', 5.5, RED),
  series(plain(KISO), 'rect', 6.5, BLUE, {capSize: 4}),
  series(plain(ASASSN_RECENT), 'circle', 5, BLACK)
]}, Y_E));

makePanel(0, 5, Object.assign({datasets: [
  series(plain(OVRO_LONG, OVRO_TYPICAL_ERR), 'circle', 3.3, BLACK, {errColor: '#2e2e2e', errWidth: 1.2, capSize: 0})
]}, Y_F));

makePanel(1, 5, Object.assign({datasets: [
  series(plain(VLA_RECENT), 'rect', 6.5, RED),
  series(plain(OVRO_RECENT), 'circle', 4.6, BLACK)
]}, Y_F));

// ---------------- alert marker across the right-hand column ----------------
(function drawAlert() {
  const cv = document.getElementById('alertLine');
  const ctx = cv.getContext('2d');
  const xPix = rightA.canvas.offsetLeft + rightA.scales.x.getPixelForValue(ALERT_MJD) + 2;
  ctx.strokeStyle = '#f31a1a';
  ctx.lineWidth = 6;
  ctx.setLineDash([23, 19]);
  ctx.beginPath();
  ctx.moveTo(xPix, 75);
  ctx.lineTo(xPix, 1104);
  ctx.stroke();
})();
</script>
</body>
</html>
